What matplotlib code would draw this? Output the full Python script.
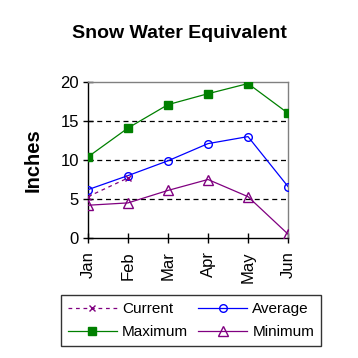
import matplotlib
matplotlib.use("Agg")
import matplotlib.pyplot as plt
from matplotlib.lines import Line2D

months = ["Jan", "Feb", "Mar", "Apr", "May", "Jun"]
current = [5.3, 7.7]
average = [6.2, 8.0, 9.9, 12.1, 13.0, 6.6]
maximum = [10.4, 14.1, 17.1, 18.5, 19.8, 16.0]
minimum = [4.2, 4.5, 6.1, 7.5, 5.3, 0.5]

plt.rcParams['font.family'] = ['Liberation Sans', 'DejaVu Sans']

fig = plt.figure(figsize=(3.58, 3.58), dpi=100)
ax = fig.add_axes([88/358, 1-238/358, 200/358, 156/358])
x = list(range(len(months)))

ax.plot(x, maximum, color="#008000", lw=0.9, marker="s", ms=6, mfc="#008000", mec="#008000", zorder=3)
ax.plot(x, average, color="#0000ff", lw=0.9, marker="o", ms=5.5, mfc="none", mec="#0000ff", zorder=3)
ax.plot(x, minimum, color="#800080", lw=0.9, marker="^", ms=6.5, mfc="none", mec="#800080", zorder=3)
ax.plot(x[:len(current)], current, color="#800080", lw=0.9, ls=(0, (3, 3)), marker="x", ms=5, mec="#800080", zorder=3)

ax.set_xlim(0, 5)
ax.set_ylim(0, 20)
ax.set_yticks([0, 5, 10, 15, 20])
ax.set_xticks(x)
ax.set_xticklabels(months, rotation=90, fontsize=12)
ax.tick_params(axis='y', labelsize=12, direction='inout', length=7, width=1, pad=3)
ax.tick_params(axis='x', direction='inout', length=7, width=1, pad=6)
for yv in [5, 10, 15]:
    ax.axhline(yv, color="black", lw=0.9, ls=(0, (4, 3)), zorder=1)
ax.spines['left'].set_color('black')
ax.spines['bottom'].set_color('black')
ax.spines['top'].set_color('#808080')
ax.spines['right'].set_color('#808080')
for s in ax.spines.values():
    s.set_linewidth(1)
for lab in ax.get_xticklabels() + ax.get_yticklabels():
    lab.set_clip_on(False)

fig.text(33/358, 1-160/358, "Inches", rotation=90, ha="center", va="center", fontsize=14.5, fontweight="bold")
fig.text(0.5, 1-33/358, "Snow Water Equivalent", ha="center", va="center", fontsize=14, fontweight="bold")

handles = [
    Line2D([], [], color="#800080", lw=0.9, ls=(0, (3, 3)), marker="x", ms=5),
    Line2D([], [], color="#008000", lw=0.9, marker="s", ms=6),
    Line2D([], [], color="#0000ff", lw=0.9, marker="o", ms=5.5, mfc="none"),
    Line2D([], [], color="#800080", lw=0.9, marker="^", ms=6.5, mfc="none"),
]
labels = ["Current", "Maximum", "Average", "Minimum"]
leg = fig.legend(handles, labels, ncol=2, loc="center", bbox_to_anchor=(191/358, 1-320.5/358),
                 frameon=True, fancybox=False, edgecolor="black", fontsize=11,
                 handlelength=3.2, columnspacing=0.65, handletextpad=0.35, borderpad=0.45, labelspacing=0.6)
leg.get_frame().set_linewidth(1)

fig.savefig("out.png", dpi=100)
